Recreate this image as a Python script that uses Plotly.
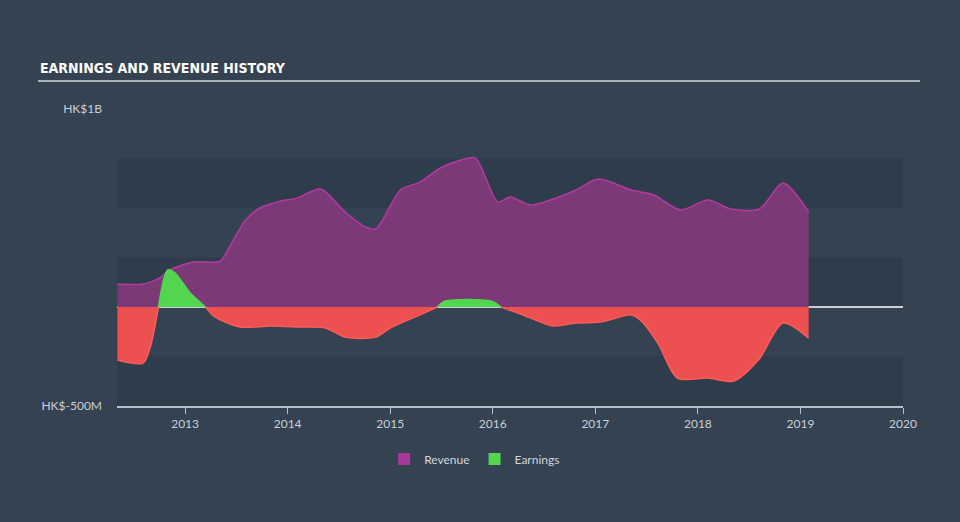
import plotly.graph_objects as go

# Revenue (HK$ millions) by decimal year
rev_x = [2012.34, 2012.59, 2012.76, 2012.85, 2013.08, 2013.34, 2013.47, 2013.59, 2013.73, 2013.93,
         2014.09, 2014.32, 2014.56, 2014.76, 2014.86, 2015.10, 2015.29, 2015.49, 2015.69, 2015.83,
         2016.05, 2016.17, 2016.37, 2016.56, 2016.81, 2017.03, 2017.35, 2017.57, 2017.83, 2018.10,
         2018.32, 2018.60, 2018.83, 2019.08]
rev_y = [116, 116, 150, 187, 227, 232, 338, 440, 500, 535,
         550, 596, 480, 404, 394, 591, 631, 702, 742, 752,
         530, 556, 515, 540, 591, 646, 591, 566, 490, 540,
         495, 495, 626, 480]

# Earnings (HK$ millions)
earn_x = [2012.34, 2012.59, 2012.66, 2012.74, 2012.83, 2012.90, 2013.05, 2013.20, 2013.29, 2013.54,
          2013.83, 2014.12, 2014.37, 2014.56, 2014.86, 2015.00, 2015.29, 2015.46, 2015.54, 2015.98,
          2016.08, 2016.27, 2016.59, 2016.81, 2017.05, 2017.35, 2017.44, 2017.61, 2017.80, 2018.10,
          2018.35, 2018.59, 2018.83, 2019.08]
earn_y = [-268, -283, -202, 0, 187, 172, 71, 0, -50, -101,
          -96, -101, -106, -152, -152, -106, -40, 0, 30, 30,
          0, -35, -96, -81, -76, -40, -66, -182, -359, -359,
          -374, -268, -81, -157]

year_ticks = [2013, 2014, 2015, 2016, 2017, 2018, 2019, 2020]
y_ticks = [-500, 1000]
y_labels = ["HK$-500M", "HK$1B"]

BG = "#344251"
BAND = "#2f3c4b"
REV_LINE = "#b23aa0"
REV_FILL = "#7b3a77"
NEG_LINE = "#ff5a5a"
NEG_FILL = "#ec5050"
POS_COLOR = "#52d64f"
LEG_REV = "#a9389b"

fig = go.Figure()

fig.add_trace(go.Scatter(
    x=rev_x, y=[v * 1e6 for v in rev_y], mode="lines", name="Revenue",
    line=dict(color=REV_LINE, width=1.5, shape="spline", smoothing=0.8),
    fill="tozeroy", fillcolor=REV_FILL, hoverinfo="skip", showlegend=False,
))

# split earnings into sign segments at zero points
segments = []
cur_x, cur_y = [earn_x[0]], [earn_y[0]]
for xv, yv in zip(earn_x[1:], earn_y[1:]):
    cur_x.append(xv)
    cur_y.append(yv)
    if yv == 0:
        segments.append((cur_x, cur_y))
        cur_x, cur_y = [xv], [yv]
if len(cur_x) > 1:
    segments.append((cur_x, cur_y))

for sx, sy in segments:
    positive = max(sy) > 0
    col_line = POS_COLOR if positive else NEG_LINE
    col_fill = POS_COLOR if positive else NEG_FILL
    fig.add_trace(go.Scatter(
        x=sx, y=[v * 1e6 for v in sy], mode="lines", name="Earnings",
        line=dict(color=col_line, width=1.5, shape="spline", smoothing=0.8),
        fill="tozeroy", fillcolor=col_fill, hoverinfo="skip", showlegend=False,
    ))

# legend-only entries with square swatches
fig.add_trace(go.Bar(x=[None], y=[None], name="Revenue", marker=dict(color=LEG_REV, line=dict(width=0))))
fig.add_trace(go.Bar(x=[None], y=[None], name="Earnings", marker=dict(color=POS_COLOR, line=dict(width=0))))

shapes = []
for lo, hi in [(-500e6, -250e6), (0, 250e6), (500e6, 750e6)]:
    shapes.append(dict(type="rect", xref="paper", yref="y", x0=0, x1=1, y0=lo, y1=hi,
                       fillcolor=BAND, line=dict(width=0), layer="below"))
shapes.append(dict(type="line", xref="paper", yref="y", x0=0, x1=1, y0=0, y1=0,
                   line=dict(color="white", width=1.5), layer="below"))
# title underline
shapes.append(dict(type="line", xref="paper", yref="paper",
                   x0=(38 - 117) / 786, x1=(920 - 117) / 786,
                   y0=1 + (109 - 81) / 297, y1=1 + (109 - 81) / 297,
                   line=dict(color="#a9b1bb", width=2)))

fig.update_layout(
    width=960, height=522,
    margin=dict(l=117, r=57, t=109, b=116),
    paper_bgcolor=BG, plot_bgcolor=BG,
    font=dict(family="Lato, Open Sans, sans-serif", color="#c8d0da", size=12),
    shapes=shapes,
    showlegend=True,
    barmode="overlay",
    legend=dict(orientation="h", x=0.455, xanchor="center", y=-0.13, yanchor="top",
                font=dict(size=12, color="#d0d6de"), bgcolor="rgba(0,0,0,0)",
                itemwidth=30),
    annotations=[dict(text="<b>EARNINGS AND REVENUE HISTORY</b>", xref="paper", yref="paper",
                      x=(38 - 117) / 786, y=1 + (109 - 68) / 297, xanchor="left", yanchor="middle",
                      showarrow=False,
                      font=dict(family="DejaVu Sans Condensed, Liberation Sans Narrow, sans-serif",
                                size=14, color="white"))],
    xaxis=dict(range=[2012.336, 2020.0], tickvals=year_ticks, ticktext=[str(t) for t in year_ticks],
               showgrid=False, zeroline=False, showline=True, linecolor="#b4c0cc", linewidth=1.5,
               ticks="outside", ticklen=6, tickcolor="#b4c0cc", tickfont=dict(size=12)),
    yaxis=dict(range=[-500e6, 1000e6], tickvals=[v * 1e6 for v in y_ticks], ticktext=y_labels,
               showgrid=False, zeroline=False, showline=False, ticks="", tickfont=dict(size=12),
               ticklabelstandoff=14),
)

fig.write_html("out.html")
